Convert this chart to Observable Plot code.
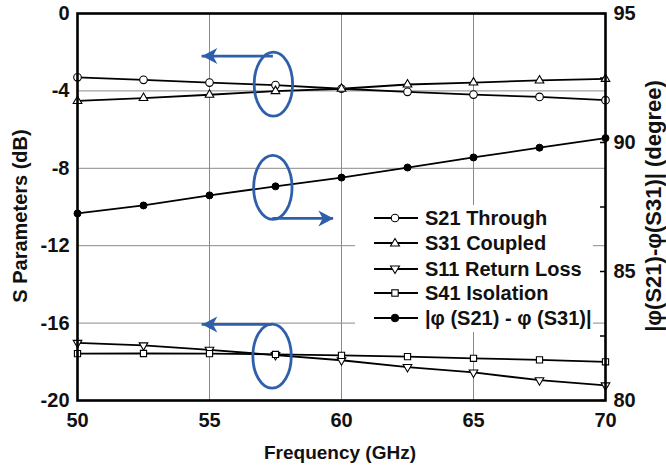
<!DOCTYPE html>
<html>
<head>
<meta charset="utf-8">
<script src="https://cdn.jsdelivr.net/npm/d3@7"></script>
<script src="https://cdn.jsdelivr.net/npm/@observablehq/plot@0.6"></script>
<style>
  html, body { margin: 0; padding: 0; background: #fff; }
  #wrap { position: relative; width: 666px; height: 470px; font-family: "Liberation Sans", Arial, sans-serif; font-weight: bold; color: #111; }
  #wrap svg text { font-size: 20px; font-weight: bold; }
  #legend { position: absolute; left: 355px; top: 205px; width: 238px; height: 127px; background: #fff; }
  .row { position: absolute; left: 18px; height: 24px; display: flex; align-items: center; font-size: 20px; white-space: nowrap; }
  .row svg { margin-right: 6px; }
  .title { position: absolute; white-space: nowrap; transform: translate(-50%, -50%); }
  .title.rot { transform: translate(-50%, -50%) rotate(-90deg); }
</style>
</head>
<body>
<div id="wrap"><div id="legend"></div></div>
<script>
// ---- data ----
const freq = [50, 52.5, 55, 57.5, 60, 62.5, 65, 67.5, 70];
const s21Through = [-3.30, -3.43, -3.57, -3.70, -3.89, -4.05, -4.19, -4.31, -4.48];
const s31Coupled = [-4.52, -4.37, -4.20, -4.01, -3.89, -3.67, -3.57, -3.46, -3.38];
const s11Return = [-17.02, -17.15, -17.38, -17.65, -17.92, -18.27, -18.55, -18.95, -19.22];
const s41Isolation = [-17.58, -17.57, -17.58, -17.62, -17.67, -17.73, -17.82, -17.90, -18.00];
const phaseDiffDeg = [87.25, 87.56, 87.95, 88.30, 88.64, 89.03, 89.42, 89.80, 90.17];

const leftTicks = [0, -4, -8, -12, -16, -20];
const gridDb = [-4, -8, -12, -16];
const xTicks = [50, 55, 60, 65, 70];
const gridFreq = [55, 60, 65];
const rightLabelTicks = [95, 90, 85, 80];
const rightMinorTicks = [95, 92.5, 90, 87.5, 85, 82.5, 80];
const degDomain = [80, 95];
const dbDomain = [-20, 0];

const seriesNames = ["S21 Through", "S31 Coupled", "S11 Return Loss", "S41 Isolation", "|\u03c6 (S21) - \u03c6 (S31)|"];

// annotations (data coordinates)
const ellipseFreq = [57.42, 57.40, 57.37];
const ellipseDb = [-3.65, -8.99, -17.71];
const arrowFromFreq = [57.42, 57.40, 57.37];
const arrowToFreq = [54.72, 59.70, 54.72];
const arrowDb = [-2.20, -10.59, -16.07];
const arrowDir = ["left", "right", "left"];

const leftTitle = "S Parameters (dB)";
const rightTitle = "|\u03c6(S21)-\u03c6(S31)| (degree)";
const bottomTitle = "Frequency (GHz)";

// ---- helpers ----
const degToDb = d => dbDomain[0] + (d - degDomain[0]) * (dbDomain[1] - dbDomain[0]) / (degDomain[1] - degDomain[0]);
const dbToDeg = v => degDomain[0] + (v - dbDomain[0]) * (degDomain[1] - degDomain[0]) / (dbDomain[1] - dbDomain[0]);

const rows = (vals) => freq.map((f, i) => ({f, v: vals[i]}));
const dS21 = rows(s21Through);
const dS31 = rows(s31Coupled);
const dS11 = rows(s11Return);
const dS41 = rows(s41Isolation);
const dPhase = rows(phaseDiffDeg.map(degToDb));

const blue = "#2f5fab";
const ellipseSym = {draw(ctx, size) {
  const r = Math.sqrt(size / Math.PI), ry = r, rx = r * 0.6, k = 0.5523;
  ctx.moveTo(rx, 0);
  ctx.bezierCurveTo(rx, ry * k, rx * k, ry, 0, ry);
  ctx.bezierCurveTo(-rx * k, ry, -rx, ry * k, -rx, 0);
  ctx.bezierCurveTo(-rx, -ry * k, -rx * k, -ry, 0, -ry);
  ctx.bezierCurveTo(rx * k, -ry, rx, -ry * k, rx, 0);
  ctx.closePath();
}};
const headSym = {draw(ctx, size) {
  const r = Math.sqrt(size / Math.PI), L = r * 1.9, W = r;
  ctx.moveTo(0, 0); ctx.lineTo(L, -W); ctx.lineTo(L * 0.72, 0); ctx.lineTo(L, W); ctx.closePath();
}};
const ann = ellipseFreq.map((f, i) => ({cf: f, cy: ellipseDb[i], x1: arrowFromFreq[i], x2: arrowToFreq[i], y: arrowDb[i], dir: arrowDir[i]}));

const lineStyle = {x: "f", y: "v", stroke: "#000", strokeWidth: 1.8};
const markerStyle = {x: "f", y: "v", stroke: "#000", strokeWidth: 1.1, fill: "#fff"};
const font = '"Liberation Sans", Arial, sans-serif';

const chart = Plot.plot({
  width: 666,
  height: 470,
  marginLeft: 77,
  marginRight: 61,
  marginTop: 13,
  marginBottom: 70,
  style: {fontFamily: font, fontSize: "20px", fontWeight: "bold", color: "#111", background: "transparent"},
  x: {domain: [50, 70]},
  y: {domain: dbDomain},
  marks: [
    Plot.gridY(gridDb, {stroke: "#8a8a8a", strokeOpacity: 1, strokeWidth: 1}),
    Plot.gridX(gridFreq, {stroke: "#8a8a8a", strokeOpacity: 1, strokeWidth: 1}),
    Plot.axisY(leftTicks, {anchor: "left", tickSize: 0, tickPadding: 8, tickFormat: d => `${d}`, label: null}),
    Plot.axisX(xTicks, {anchor: "bottom", tickSize: 0, tickPadding: 12, tickFormat: d => `${d}`, label: null}),
    Plot.axisY(rightLabelTicks.map(degToDb), {anchor: "right", tickSize: 0, tickPadding: 8, tickFormat: d => `${Math.round(dbToDeg(d))}`, label: null}),
    Plot.tickY(rightMinorTicks.map(degToDb), {insetLeft: 523, stroke: "#000", strokeWidth: 1.5}),
    Plot.line(dS21, lineStyle),
    Plot.line(dS31, lineStyle),
    Plot.line(dS11, lineStyle),
    Plot.line(dS41, lineStyle),
    Plot.line(dPhase, lineStyle),
    Plot.dot(dS21, {...markerStyle, symbol: "circle", r: 3.8}),
    Plot.dot(dS31, {...markerStyle, symbol: "triangle", r: 3.2}),
    Plot.dot(dS11, {...markerStyle, symbol: "triangle", r: 3.2, rotate: 180}),
    Plot.dot(dS41, {...markerStyle, symbol: "square", r: 3.5}),
    Plot.dot(dPhase, {x: "f", y: "v", fill: "#000", stroke: "#000", strokeWidth: 1, r: 3.5}),
    Plot.dot(ann, {x: "cf", y: "cy", symbol: ellipseSym, r: 32, stroke: blue, strokeWidth: 2.8, fill: "none"}),
    Plot.ruleY(ann, {y: "y", x1: "x1", x2: "x2", stroke: blue, strokeWidth: 2.8}),
    Plot.dot(ann, {x: "x2", y: "y", symbol: headSym, r: 8, fill: blue, stroke: "none", rotate: d => d.dir === "left" ? 0 : 180}),
    Plot.frame({stroke: "#000", strokeWidth: 2.6})
  ]
});
const wrap = document.getElementById("wrap");
wrap.insertBefore(chart, wrap.firstChild);

// axis titles
const addTitle = (text, x, y, rot, size) => {
  const d = document.createElement("div");
  d.className = "title" + (rot ? " rot" : "");
  d.style.left = x + "px"; d.style.top = y + "px"; d.style.fontSize = size + "px";
  d.textContent = text;
  wrap.appendChild(d);
};
addTitle(leftTitle, 20, 216, true, 20);
addTitle(rightTitle, 654, 206, true, 22);
addTitle(bottomTitle, 340, 453, false, 19);

// legend (HTML overlay with inline swatches)
const legend = document.getElementById("legend");
const swatch = (kind) => {
  let m = "";
  if (kind === 0) m = '<circle cx="22" cy="12" r="3.8" fill="#fff" stroke="#000" stroke-width="1.1"/>';
  if (kind === 1) m = '<path d="M22,7.5 L26.5,15 L17.5,15 Z" fill="#fff" stroke="#000" stroke-width="1.1"/>';
  if (kind === 2) m = '<path d="M22,16.5 L26.5,9 L17.5,9 Z" fill="#fff" stroke="#000" stroke-width="1.1"/>';
  if (kind === 3) m = '<rect x="18.8" y="8.8" width="6.4" height="6.4" fill="#fff" stroke="#000" stroke-width="1.1"/>';
  if (kind === 4) m = '<circle cx="22" cy="12" r="3.8" fill="#000" stroke="#000" stroke-width="1"/>';
  return `<svg width="46" height="24"><line x1="1" y1="12" x2="45" y2="12" stroke="#000" stroke-width="1.8"/>${m}</svg>`;
};
const rowTops = [1, 26, 52, 76, 101];
seriesNames.forEach((name, i) => {
  const div = document.createElement("div");
  div.className = "row";
  div.style.top = rowTops[i] + "px";
  div.innerHTML = swatch(i) + `<span>${name}</span>`;
  legend.appendChild(div);
});
</script>
</body>
</html>
